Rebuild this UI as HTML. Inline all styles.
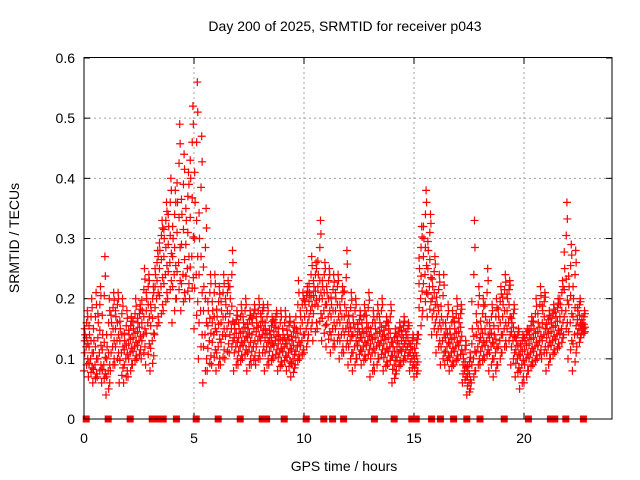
<!DOCTYPE html>
<html><head><meta charset="utf-8"><style>
body{margin:0;background:#fff}
svg{display:block;font-family:"Liberation Sans",sans-serif}
</style></head><body>
<svg id="chart" width="640" height="480" viewBox="0 0 640 480">
<rect x="0" y="0" width="640" height="480" fill="#fff"/>
<text x="345" y="31" text-anchor="middle" font-size="14">Day 200 of 2025, SRMTID for receiver p043</text>
<text x="344" y="471" text-anchor="middle" font-size="14">GPS time / hours</text>
<text transform="translate(19,238) rotate(-90)" text-anchor="middle" font-size="14">SRMTID / TECUs</text>
<g id="grid"></g>
<g id="ticks"></g>
<g id="marks"></g>
<rect x="84" y="57.5" width="528" height="361.5" fill="none" stroke="#000" stroke-width="1"/>
</svg>
<script>
const xTicks=[0,5,10,15,20];
const yTicks=[0,0.1,0.2,0.3,0.4,0.5,0.6];
const yTickLabels=["0","0.1","0.2","0.3","0.4","0.5","0.6"];
const times=[0,0.2,0.4,0.6,0.8,1,1.2,1.4,1.6,1.8,2,2.2,2.4,2.6,2.8,3,3.2,3.4,3.6,3.8,4,4.2,4.4,4.6,4.8,5,5.2,5.4,5.6,5.8,6,6.2,6.4,6.6,6.8,7,7.2,7.4,7.6,7.8,8,8.2,8.4,8.6,8.8,9,9.2,9.4,9.6,9.8,10,10.2,10.4,10.6,10.8,11,11.2,11.4,11.6,11.8,12,12.2,12.4,12.6,12.8,13,13.2,13.4,13.6,13.8,14,14.2,14.4,14.6,14.8,15,15.2,15.4,15.6,15.8,16,16.2,16.4,16.6,16.8,17,17.2,17.4,17.6,17.8,18,18.2,18.4,18.6,18.8,19,19.2,19.4,19.6,19.8,20,20.2,20.4,20.6,20.8,21,21.2,21.4,21.6,21.8,22,22.2,22.4,22.6];
const lowVals=[.08,.07,.06,.07,.06,.04,.08,.09,.06,.06,.07,.09,.10,.10,.09,.08,.14,.16,.18,.20,.16,.20,.18,.20,.20,.15,.10,.06,.08,.09,.08,.09,.10,.11,.08,.09,.10,.08,.09,.09,.10,.08,.09,.10,.08,.09,.08,.07,.09,.10,.11,.14,.13,.15,.13,.12,.11,.12,.10,.11,.09,.08,.10,.09,.10,.07,.08,.10,.08,.09,.06,.08,.09,.10,.08,.07,.14,.18,.17,.14,.11,.09,.09,.08,.09,.10,.06,.04,.06,.08,.09,.10,.08,.07,.09,.11,.12,.09,.07,.05,.06,.08,.09,.10,.10,.08,.10,.11,.12,.14,.10,.08,.12,.14];
const midVals1=[.12,.10,.09,.11,.09,.08,.12,.13,.11,.10,.11,.12,.13,.14,.16,.13,.20,.22,.24,.26,.24,.26,.24,.25,.27,.24,.18,.14,.13,.14,.12,.14,.15,.15,.12,.12,.13,.12,.12,.13,.14,.12,.12,.13,.11,.12,.11,.10,.12,.13,.15,.18,.19,.20,.18,.17,.15,.16,.14,.15,.13,.12,.13,.12,.13,.11,.12,.13,.11,.12,.09,.11,.12,.12,.10,.09,.20,.24,.22,.18,.15,.13,.12,.11,.12,.13,.08,.06,.10,.12,.12,.13,.12,.11,.13,.15,.16,.13,.10,.09,.10,.11,.12,.13,.14,.12,.13,.14,.15,.18,.16,.14,.15,.15];
const midVals2=[.14,.14,.13,.16,.14,.12,.16,.17,.15,.13,.14,.15,.16,.18,.20,.18,.24,.28,.30,.32,.30,.36,.34,.33,.40,.36,.30,.22,.18,.18,.17,.18,.19,.20,.15,.15,.16,.15,.16,.16,.17,.15,.14,.16,.14,.14,.14,.13,.15,.17,.19,.21,.22,.24,.22,.21,.19,.20,.18,.19,.16,.16,.15,.15,.16,.14,.15,.16,.14,.15,.12,.13,.14,.14,.12,.11,.25,.30,.28,.22,.19,.17,.15,.14,.15,.16,.10,.08,.15,.16,.15,.17,.15,.14,.17,.19,.20,.16,.13,.12,.13,.14,.15,.16,.18,.15,.16,.17,.19,.25,.22,.20,.18,.16];
const highVals=[.18,.20,.21,.22,.27,.20,.21,.21,.20,.18,.17,.20,.19,.25,.24,.22,.28,.33,.36,.40,.38,.49,.44,.41,.52,.56,.47,.35,.24,.24,.22,.24,.23,.28,.18,.19,.20,.18,.19,.20,.19,.19,.17,.18,.18,.18,.17,.16,.23,.21,.22,.27,.26,.33,.26,.25,.24,.24,.22,.28,.21,.20,.18,.19,.21,.18,.19,.20,.17,.19,.15,.16,.17,.16,.14,.14,.32,.38,.34,.27,.24,.24,.19,.18,.20,.19,.13,.11,.33,.22,.20,.25,.19,.20,.22,.24,.23,.19,.15,.14,.15,.17,.20,.22,.21,.18,.19,.20,.23,.36,.29,.28,.20,.18];
const zeroTimes=[0.1,1.1,2.1,3.1,3.3,3.6,4.2,5.1,6.1,7.1,8.1,8.3,9.1,10.1,10.9,11.3,11.8,13.2,14.1,14.9,15.1,15.8,16.2,16.8,17.4,18.0,19.1,20.2,21.2,21.4,21.9,22.7];

const X0=84,X1=612,Y0=419,Y1=58;
const xs=t=>X0+t/24*(X1-X0);
const ys=v=>Y0-v/0.6*(Y0-Y1);
const NS="http://www.w3.org/2000/svg";
const grid=document.getElementById('grid'),ticks=document.getElementById('ticks'),marks=document.getElementById('marks');
function mk(tag,attrs,parent){const e=document.createElementNS(NS,tag);for(const k in attrs)e.setAttribute(k,attrs[k]);parent.appendChild(e);return e;}
xTicks.forEach(t=>{
  const x=xs(t);
  if(t>0){const g=mk('line',{x1:x,x2:x,y1:Y0,y2:Y1,stroke:'#a0a0a0','stroke-dasharray':'2,3'},grid);
  
  }
  mk('line',{x1:x,x2:x,y1:Y0,y2:Y0-6,stroke:'#000'},ticks);
  mk('line',{x1:x,x2:x,y1:Y1,y2:Y1+6,stroke:'#000'},ticks);
  const l=mk('text',{x:x,y:Y0+24,'text-anchor':'middle','font-size':'14'},ticks);
  l.textContent=t;
  
  
});
yTicks.forEach((v,i)=>{
  const y=ys(v);
  if(v>0&&v<0.6){const g=mk('line',{x1:X0,x2:X1,y1:y,y2:y,stroke:'#a0a0a0','stroke-dasharray':'2,3'},grid);
  
  }
  mk('line',{x1:X0,x2:X0+6,y1:y,y2:y,stroke:'#000'},ticks);
  mk('line',{x1:X1,x2:X1-6,y1:y,y2:y,stroke:'#000'},ticks);
  const l=mk('text',{x:X0-9,y:y+5,'text-anchor':'end','font-size':'14'},ticks);
  l.textContent=yTickLabels[i];
  
  
});
function plus(t,v){
  const x=xs(t),y=ys(v);
  const p=mk('path',{d:`M${x-4},${y}h8M${x},${y-4}v8`,stroke:'#f00','stroke-width':'1.2',fill:'none'},marks);
  
  
}
const series=[lowVals,midVals1,midVals2,highVals];
const offs=[0,0.1,0.05,0.15];
const fr=[0.25,0.5,0.75];
const fo=[0.03,0.12,0.17];
times.forEach((t,i)=>{
  series.forEach((s,k)=>{
    plus(t+offs[k],s[i]);
    if(k>0){
      fr.forEach((f,j)=>{
        const a=series[k-1][i],b=s[i];
        plus(t+fo[(j+k)%3],a+(b-a)*f);
      });
    }
  });
});
zeroTimes.forEach(t=>{
  const r=mk('rect',{x:xs(t)-3.5,y:Y0-3.5,width:7,height:7,fill:'#f00'},marks);
  
  
});
</script>
</body></html>
